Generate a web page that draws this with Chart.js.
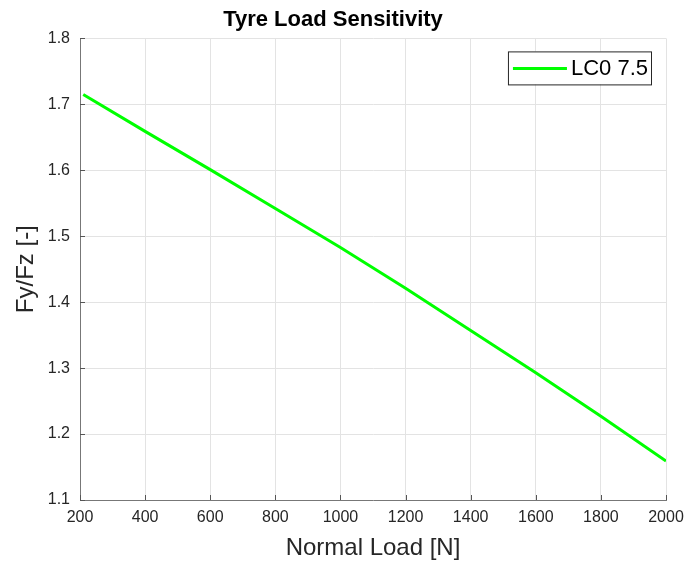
<!DOCTYPE html>
<html>
<head>
<meta charset="utf-8">
<script src="https://cdn.jsdelivr.net/npm/chart.js@4"></script>
<style>
html,body{margin:0;padding:0;background:#fff;}
#wrap{width:688px;height:563px;}
</style>
</head>
<body>
<div id="wrap"><canvas id="chart" width="688" height="563"></canvas></div>
<script>
// values
const loads=[210,400,600,800,1000,1200,1400,1600,1800,2000];
const ratio=[1.715,1.659,1.601,1.542,1.483,1.421,1.357,1.293,1.227,1.159];
const seriesName='LC0 7.5';
const xTicks=[200,400,600,800,1000,1200,1400,1600,1800,2000];
const yTicks=[1.1,1.2,1.3,1.4,1.5,1.6,1.7,1.8];

const FONT='"Liberation Sans", Arial, Helvetica, sans-serif';
const txt='#262626';

// MATLAB style legend box inside the axes (top right)
const boxLegend={
id:'boxLegend',
afterDraw(c){
const a=c.chartArea, g=c.ctx, ds=c.data.datasets[0];
g.save();
g.font='22px '+FONT;
const tw=g.measureText(ds.label).width;
const w=tw+66, h=33;
const x=a.right-15-w, y=a.top+13;
g.fillStyle='#fff';
g.fillRect(x,y,w,h);
g.strokeStyle='#262626';
g.lineWidth=1;
g.strokeRect(x+0.5,y+0.5,w,h);
g.strokeStyle=ds.borderColor;
g.lineWidth=3;
g.beginPath();
g.moveTo(x+5,y+h/2+0.5);
g.lineTo(x+59,y+h/2+0.5);
g.stroke();
g.fillStyle='#000';
g.textBaseline='middle';
g.fillText(ds.label,x+63,y+h/2+1);
g.restore();
}
};

// small inward tick marks like MATLAB
const inTicks={
id:'inTicks',
afterDatasetsDraw(c){
const a=c.chartArea, g=c.ctx, xs=c.scales.x, ys=c.scales.y;
g.save();
g.strokeStyle='#555';
g.lineWidth=1;
g.beginPath();
xTicks.forEach(v=>{const px=Math.round(xs.getPixelForValue(v))+0.5;g.moveTo(px,a.bottom);g.lineTo(px,a.bottom-5);});
yTicks.forEach(v=>{const py=Math.round(ys.getPixelForValue(v))+0.5;g.moveTo(a.left,py);g.lineTo(a.left+5,py);});
g.stroke();
g.restore();
}
};

const ctx=document.getElementById('chart');
const chart=new Chart(ctx,{
type:'line',
data:{datasets:[{
label:seriesName,
data:loads.map((x,i)=>({x:x,y:ratio[i]})),
borderColor:'#00ff00',
borderWidth:3,
pointRadius:0,
tension:0,
fill:false
}]},
options:{
responsive:false,
animation:false,
layout:{padding:{top:7,right:22,bottom:0,left:0}},
plugins:{
legend:{display:false},
tooltip:{enabled:false},
title:{display:true,text:'Tyre Load Sensitivity',color:'#000',
font:{family:FONT,size:22,weight:'bold'},padding:{top:0,bottom:5}}
},
scales:{
x:{
type:'linear',min:200,max:2000,
afterBuildTicks(s){s.ticks=xTicks.map(v=>({value:v}));},
afterFit(s){s.height=63;s.paddingRight=0;s.paddingLeft=0;},
ticks:{color:txt,font:{family:FONT,size:16},padding:8,maxRotation:0,autoSkip:false,callback:v=>String(v)},
grid:{color:'#e3e3e3',drawTicks:false},
border:{display:true,color:'#777',width:1},
title:{display:true,text:'Normal Load [N]',color:txt,font:{family:FONT,size:24},padding:{top:4,bottom:0}}
},
y:{
min:1.1,max:1.8,
afterBuildTicks(s){s.ticks=yTicks.map(v=>({value:v}));},
afterFit(s){s.width=80;},
ticks:{color:txt,font:{family:FONT,size:16},padding:10,callback:v=>v.toFixed(1)},
grid:{color:'#e3e3e3',drawTicks:false},
border:{display:true,color:'#777',width:1},
title:{display:true,text:'Fy/Fz [-]',color:txt,font:{family:FONT,size:24},padding:{top:12,bottom:0}}
}
}
},
plugins:[inTicks,boxLegend]
});
</script>
</body>
</html>
